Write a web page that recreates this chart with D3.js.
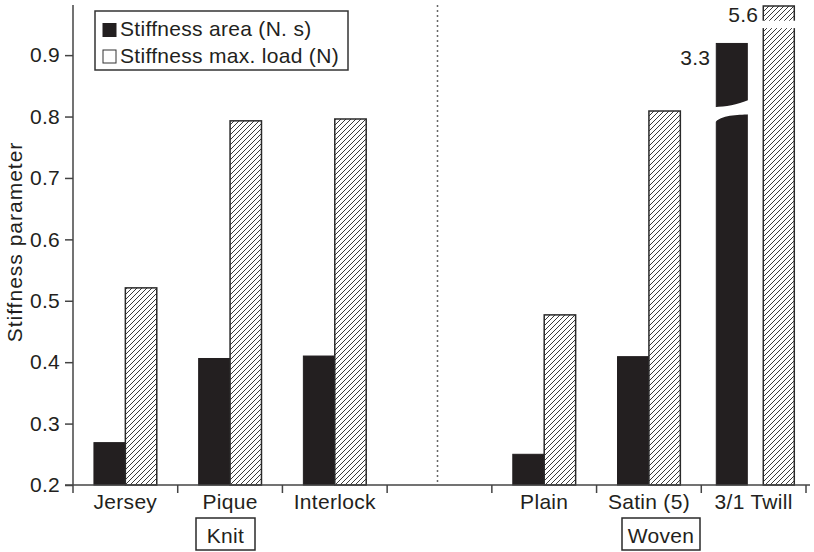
<!DOCTYPE html>
<html><head><meta charset="utf-8">
<script src="https://cdn.jsdelivr.net/npm/d3@7"></script>
<style>
html,body{margin:0;padding:0;background:#fff;}
svg text{font-family:"Liberation Sans",Arial,Helvetica,sans-serif;fill:#231f20;letter-spacing:0.3px;}
</style></head>
<body>
<svg id="chart" width="814" height="552"></svg>
<script>
// ---- data ----
const categories = ["Jersey", "Pique", "Interlock", "", "Plain", "Satin (5)", "3/1 Twill"];
const stiffnessArea = [0.269, 0.406, 0.410, null, 0.250, 0.409, 3.3];
const stiffnessMaxLoad = [0.521, 0.793, 0.796, null, 0.477, 0.809, 5.6];
const seriesNames = ["Stiffness area (N. s)", "Stiffness max. load (N)"];
const yTicks = [0.2, 0.3, 0.4, 0.5, 0.6, 0.7, 0.8, 0.9];
const groups = [{name: "Knit", at: 1}, {name: "Woven", at: 5}];
const axisTop = 0.98;
// broken bars: value shown at the cut-off height
const brokenShown = {area: 0.919, load: 0.98};

const svg = d3.select("#chart");
const ink = "#231f20";
const FS = 21;

const x = d3.scaleBand().domain(d3.range(categories.length)).range([73, 806]).padding(0);
const y = d3.scaleLinear().domain([0.2, axisTop]).range([485, 6]);

// hatch pattern
const defs = svg.append("defs");
const pat = defs.append("pattern").attr("id", "hatch").attr("patternUnits", "userSpaceOnUse")
  .attr("width", 5).attr("height", 5);
pat.append("rect").attr("width", 5).attr("height", 5).attr("fill", "#fff");
pat.append("path").attr("d", "M-1,1 l2,-2 M0,5 l5,-5 M4,6 l2,-2")
  .attr("stroke", "#3a3a3a").attr("stroke-width", 1);

// dotted separator
svg.append("line").attr("x1", x(3) + x.bandwidth() / 2 - 2).attr("x2", x(3) + x.bandwidth() / 2 - 2)
  .attr("y1", 5).attr("y2", 485).attr("stroke", "#666").attr("stroke-width", 1.5)
  .attr("stroke-dasharray", "2,3");

// bars
const bw = x.bandwidth();
const inner = d3.scaleBand().domain([0, 1]).range([0.2 * bw, 0.8 * bw]).paddingInner(0);
const innerBroken = d3.scaleBand().domain([0, 1]).range([15, 93]).paddingInner(0.34);

categories.forEach((c, i) => {
  if (stiffnessArea[i] == null) return;
  const broken = stiffnessArea[i] > axisTop || stiffnessMaxLoad[i] > axisTop;
  const sc = broken ? innerBroken : inner;
  const va = stiffnessArea[i] > axisTop ? brokenShown.area : stiffnessArea[i];
  const vl = stiffnessMaxLoad[i] > axisTop ? brokenShown.load : stiffnessMaxLoad[i];
  const xa = x(i) + sc(0), xl = x(i) + sc(1), w = sc.bandwidth();
  svg.append("rect").attr("x", xa).attr("y", y(va)).attr("width", w).attr("height", y(0.2) - y(va))
    .attr("fill", "#231f20").attr("stroke", "#231f20").attr("stroke-width", 1);
  svg.append("rect").attr("x", xl).attr("y", y(vl)).attr("width", w).attr("height", y(0.2) - y(vl))
    .attr("fill", "url(#hatch)").attr("stroke", "#2a2a2a").attr("stroke-width", 1.5);
  if (broken) {
    // break in the black bar
    const t = y(0.815);
    svg.append("path")
      .attr("d", `M${xa - 2},${t} C${xa + 10},${t - 1} ${xa + 20},${t - 2} ${xa + w + 2},${t - 7.5}
                  L${xa + w + 2},${t + 7} C${xa + w - 10},${t + 8} ${xa + 5},${t + 7} ${xa - 2},${t + 16} Z`)
      .attr("fill", "#fff");
    // break in the hatched bar
    svg.append("rect").attr("x", xl - 2).attr("y", y(0.956)).attr("width", w + 4)
      .attr("height", y(0.944) - y(0.956)).attr("fill", "#fff");
    svg.append("text").attr("x", xa - 6).attr("y", y(va) + 22).attr("text-anchor", "end")
      .attr("font-size", FS).text(String(stiffnessArea[i]));
    svg.append("text").attr("x", xl - 5).attr("y", y(vl) + 16).attr("text-anchor", "end")
      .attr("font-size", FS).text(String(stiffnessMaxLoad[i]));
  }
});

// axes
const yAxis = d3.axisLeft(y).tickValues(yTicks).tickFormat(d3.format(".1f")).tickSize(8).tickPadding(5);
const gy = svg.append("g").attr("transform", "translate(73,0)").call(yAxis);
gy.select(".domain").attr("d", `M0,5V${y(0.2)}`).attr("stroke", "#444").attr("stroke-width", 1.5);
gy.selectAll(".tick line").attr("stroke", "#444").attr("stroke-width", 1.5);
gy.selectAll(".tick text").attr("font-size", FS).attr("fill", ink)
  .attr("font-family", "'Liberation Sans',Arial,sans-serif");

svg.append("line").attr("x1", 65).attr("x2", 810).attr("y1", y(0.2)).attr("y2", y(0.2))
  .attr("stroke", "#444").attr("stroke-width", 1.5);
const bounds = d3.range(categories.length + 1).map(i => i < categories.length ? x(i) : x(i - 1) + bw);
svg.selectAll(".xt").data(bounds).join("line").attr("x1", d => d).attr("x2", d => d)
  .attr("y1", y(0.2)).attr("y2", y(0.2) + 8).attr("stroke", "#444").attr("stroke-width", 1.5);
svg.selectAll(".xl").data(categories).join("text")
  .attr("x", (d, i) => x(i) + bw / 2).attr("y", 509).attr("text-anchor", "middle")
  .attr("font-size", FS).text(d => d);

// group boxes
const boxes = [{x0: 196, x1: 255}, {x0: 622, x1: 700}];
groups.forEach((g, k) => {
  const b = boxes[k];
  svg.append("rect").attr("x", b.x0).attr("y", 518).attr("width", b.x1 - b.x0).attr("height", 32)
    .attr("fill", "#fff").attr("stroke", "#2a2a2a").attr("stroke-width", 1.5);
  svg.append("text").attr("x", (b.x0 + b.x1) / 2).attr("y", 543).attr("text-anchor", "middle")
    .attr("font-size", FS).text(g.name);
});

// y label
svg.append("text").attr("transform", "translate(22,242) rotate(-90)").attr("text-anchor", "middle")
  .attr("font-size", FS).style("letter-spacing", "1px").text("Stiffness parameter");

// legend
const lg = svg.append("g");
lg.append("rect").attr("x", 95).attr("y", 11).attr("width", 253).attr("height", 59)
  .attr("fill", "#fff").attr("stroke", "#333").attr("stroke-width", 1.5);
lg.append("rect").attr("x", 102.5).attr("y", 23).attr("width", 14).attr("height", 14).attr("fill", "#231f20");
lg.append("rect").attr("x", 103).attr("y", 50).attr("width", 13).attr("height", 13)
  .attr("fill", "#fff").attr("stroke", "#333").attr("stroke-width", 1);
lg.append("text").attr("x", 120).attr("y", 36).attr("font-size", FS).text(seriesNames[0]);
lg.append("text").attr("x", 120).attr("y", 63).attr("font-size", FS).text(seriesNames[1]);
</script>
</body></html>
